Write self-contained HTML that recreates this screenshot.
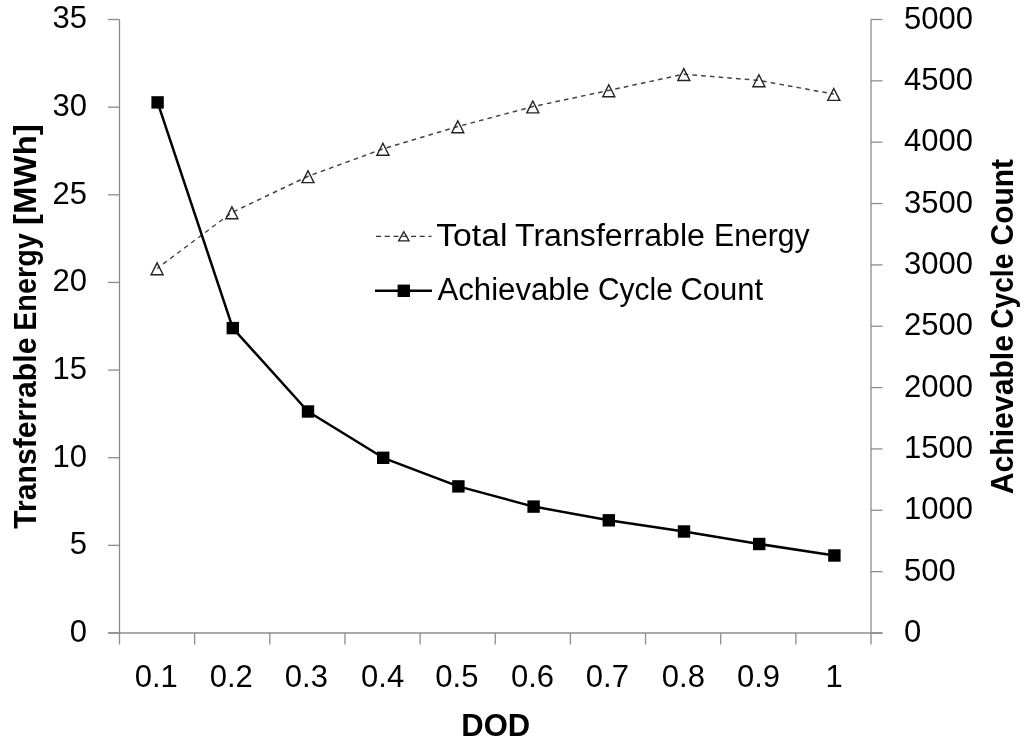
<!DOCTYPE html>
<html><head><meta charset="utf-8"><style>
html,body{margin:0;padding:0;background:#fff;width:1024px;height:745px;overflow:hidden}
svg{display:block;filter:blur(0.4px)}
.t{font-family:"Liberation Sans", sans-serif;font-size:31px;fill:#000}
.b{font-family:"Liberation Sans", sans-serif;font-size:31px;font-weight:bold;fill:#000}
</style></head><body>
<svg width="1024" height="745" viewBox="0 0 1024 745">
<line x1="119.5" y1="19.5" x2="119.5" y2="633.0" stroke="#8c8c8c" stroke-width="1.3"/>
<line x1="871.0" y1="19.5" x2="871.0" y2="633.0" stroke="#8c8c8c" stroke-width="1.3"/>
<line x1="108.0" y1="633.0" x2="882.5" y2="633.0" stroke="#8c8c8c" stroke-width="1.6"/>
<line x1="108.0" y1="633.00" x2="119.5" y2="633.00" stroke="#8c8c8c" stroke-width="1.3"/>
<text x="87" y="641.60" text-anchor="end" class="t">0</text>
<line x1="108.0" y1="545.36" x2="119.5" y2="545.36" stroke="#8c8c8c" stroke-width="1.3"/>
<text x="87" y="553.96" text-anchor="end" class="t">5</text>
<line x1="108.0" y1="457.71" x2="119.5" y2="457.71" stroke="#8c8c8c" stroke-width="1.3"/>
<text x="87" y="467.41" text-anchor="end" class="t">10</text>
<line x1="108.0" y1="370.07" x2="119.5" y2="370.07" stroke="#8c8c8c" stroke-width="1.3"/>
<text x="87" y="378.67" text-anchor="end" class="t">15</text>
<line x1="108.0" y1="282.43" x2="119.5" y2="282.43" stroke="#8c8c8c" stroke-width="1.3"/>
<text x="87" y="291.03" text-anchor="end" class="t">20</text>
<line x1="108.0" y1="194.79" x2="119.5" y2="194.79" stroke="#8c8c8c" stroke-width="1.3"/>
<text x="87" y="204.39" text-anchor="end" class="t">25</text>
<line x1="108.0" y1="107.14" x2="119.5" y2="107.14" stroke="#8c8c8c" stroke-width="1.3"/>
<text x="87" y="115.74" text-anchor="end" class="t">30</text>
<line x1="108.0" y1="19.50" x2="119.5" y2="19.50" stroke="#8c8c8c" stroke-width="1.3"/>
<text x="87" y="28.10" text-anchor="end" class="t">35</text>
<line x1="871.0" y1="633.00" x2="882.5" y2="633.00" stroke="#8c8c8c" stroke-width="1.3"/>
<text x="904" y="642.10" class="t">0</text>
<line x1="871.0" y1="571.65" x2="882.5" y2="571.65" stroke="#8c8c8c" stroke-width="1.3"/>
<text x="904" y="580.75" class="t">500</text>
<line x1="871.0" y1="510.30" x2="882.5" y2="510.30" stroke="#8c8c8c" stroke-width="1.3"/>
<text x="904" y="519.40" class="t">1000</text>
<line x1="871.0" y1="448.95" x2="882.5" y2="448.95" stroke="#8c8c8c" stroke-width="1.3"/>
<text x="904" y="458.05" class="t">1500</text>
<line x1="871.0" y1="387.60" x2="882.5" y2="387.60" stroke="#8c8c8c" stroke-width="1.3"/>
<text x="904" y="396.70" class="t">2000</text>
<line x1="871.0" y1="326.25" x2="882.5" y2="326.25" stroke="#8c8c8c" stroke-width="1.3"/>
<text x="904" y="335.35" class="t">2500</text>
<line x1="871.0" y1="264.90" x2="882.5" y2="264.90" stroke="#8c8c8c" stroke-width="1.3"/>
<text x="904" y="274.00" class="t">3000</text>
<line x1="871.0" y1="203.55" x2="882.5" y2="203.55" stroke="#8c8c8c" stroke-width="1.3"/>
<text x="904" y="212.65" class="t">3500</text>
<line x1="871.0" y1="142.20" x2="882.5" y2="142.20" stroke="#8c8c8c" stroke-width="1.3"/>
<text x="904" y="151.30" class="t">4000</text>
<line x1="871.0" y1="80.85" x2="882.5" y2="80.85" stroke="#8c8c8c" stroke-width="1.3"/>
<text x="904" y="89.95" class="t">4500</text>
<line x1="871.0" y1="19.50" x2="882.5" y2="19.50" stroke="#8c8c8c" stroke-width="1.3"/>
<text x="904" y="28.60" class="t">5000</text>
<line x1="119.50" y1="633.0" x2="119.50" y2="644.5" stroke="#8c8c8c" stroke-width="1.3"/>
<line x1="194.65" y1="633.0" x2="194.65" y2="644.5" stroke="#8c8c8c" stroke-width="1.3"/>
<line x1="269.80" y1="633.0" x2="269.80" y2="644.5" stroke="#8c8c8c" stroke-width="1.3"/>
<line x1="344.95" y1="633.0" x2="344.95" y2="644.5" stroke="#8c8c8c" stroke-width="1.3"/>
<line x1="420.10" y1="633.0" x2="420.10" y2="644.5" stroke="#8c8c8c" stroke-width="1.3"/>
<line x1="495.25" y1="633.0" x2="495.25" y2="644.5" stroke="#8c8c8c" stroke-width="1.3"/>
<line x1="570.40" y1="633.0" x2="570.40" y2="644.5" stroke="#8c8c8c" stroke-width="1.3"/>
<line x1="645.55" y1="633.0" x2="645.55" y2="644.5" stroke="#8c8c8c" stroke-width="1.3"/>
<line x1="720.70" y1="633.0" x2="720.70" y2="644.5" stroke="#8c8c8c" stroke-width="1.3"/>
<line x1="795.85" y1="633.0" x2="795.85" y2="644.5" stroke="#8c8c8c" stroke-width="1.3"/>
<line x1="871.00" y1="633.0" x2="871.00" y2="644.5" stroke="#8c8c8c" stroke-width="1.3"/>
<text x="156.30" y="687" text-anchor="middle" class="t">0.1</text>
<text x="231.30" y="687" text-anchor="middle" class="t">0.2</text>
<text x="306.40" y="687" text-anchor="middle" class="t">0.3</text>
<text x="382.60" y="687" text-anchor="middle" class="t">0.4</text>
<text x="456.90" y="687" text-anchor="middle" class="t">0.5</text>
<text x="532.55" y="687" text-anchor="middle" class="t">0.6</text>
<text x="607.40" y="687" text-anchor="middle" class="t">0.7</text>
<text x="683.35" y="687" text-anchor="middle" class="t">0.8</text>
<text x="758.45" y="687" text-anchor="middle" class="t">0.9</text>
<text x="834.10" y="687" text-anchor="middle" class="t">1</text>
<polyline points="157.10,268.50 231.90,212.50 308.00,176.30 382.90,148.90 457.80,126.50 532.80,106.60 608.80,90.40 683.80,74.20 758.90,80.40 833.80,94.10" fill="none" stroke="#444" stroke-width="1.5" stroke-dasharray="4.6 4.15" stroke-dashoffset="1.2"/>
<polyline points="157.60,102.40 232.80,328.10 308.00,411.50 383.20,457.80 458.40,486.40 533.60,506.60 608.80,520.30 684.00,531.50 759.20,544.00 834.40,555.50" fill="none" stroke="#000" stroke-width="2.5" stroke-linejoin="round"/>
<path d="M157.10,262.90 L163.10,274.80 L151.10,274.80 Z" fill="none" stroke="#222" stroke-width="1.4" stroke-linejoin="miter"/>
<path d="M231.90,206.90 L237.90,218.80 L225.90,218.80 Z" fill="none" stroke="#222" stroke-width="1.4" stroke-linejoin="miter"/>
<path d="M308.00,170.70 L314.00,182.60 L302.00,182.60 Z" fill="none" stroke="#222" stroke-width="1.4" stroke-linejoin="miter"/>
<path d="M382.90,143.30 L388.90,155.20 L376.90,155.20 Z" fill="none" stroke="#222" stroke-width="1.4" stroke-linejoin="miter"/>
<path d="M457.80,120.90 L463.80,132.80 L451.80,132.80 Z" fill="none" stroke="#222" stroke-width="1.4" stroke-linejoin="miter"/>
<path d="M532.80,101.00 L538.80,112.90 L526.80,112.90 Z" fill="none" stroke="#222" stroke-width="1.4" stroke-linejoin="miter"/>
<path d="M608.80,84.80 L614.80,96.70 L602.80,96.70 Z" fill="none" stroke="#222" stroke-width="1.4" stroke-linejoin="miter"/>
<path d="M683.80,68.60 L689.80,80.50 L677.80,80.50 Z" fill="none" stroke="#222" stroke-width="1.4" stroke-linejoin="miter"/>
<path d="M758.90,74.80 L764.90,86.70 L752.90,86.70 Z" fill="none" stroke="#222" stroke-width="1.4" stroke-linejoin="miter"/>
<path d="M833.80,88.50 L839.80,100.40 L827.80,100.40 Z" fill="none" stroke="#222" stroke-width="1.4" stroke-linejoin="miter"/>
<rect x="151.40" y="96.20" width="12.4" height="12.4" fill="#000"/>
<rect x="226.60" y="321.90" width="12.4" height="12.4" fill="#000"/>
<rect x="301.80" y="405.30" width="12.4" height="12.4" fill="#000"/>
<rect x="377.00" y="451.60" width="12.4" height="12.4" fill="#000"/>
<rect x="452.20" y="480.20" width="12.4" height="12.4" fill="#000"/>
<rect x="527.40" y="500.40" width="12.4" height="12.4" fill="#000"/>
<rect x="602.60" y="514.10" width="12.4" height="12.4" fill="#000"/>
<rect x="677.80" y="525.30" width="12.4" height="12.4" fill="#000"/>
<rect x="753.00" y="537.80" width="12.4" height="12.4" fill="#000"/>
<rect x="828.20" y="549.30" width="12.4" height="12.4" fill="#000"/>
<line x1="376" y1="236.4" x2="431.5" y2="236.4" stroke="#333" stroke-width="1.4" stroke-dasharray="5 3.75"/>
<path d="M403.85,231.70 L409.05,240.95 L398.65,240.95 Z" fill="none" stroke="#222" stroke-width="1.3" stroke-linejoin="miter"/>
<line x1="375" y1="290.8" x2="432" y2="290.8" stroke="#000" stroke-width="2.5"/>
<rect x="397.6" y="284.6" width="12.4" height="12.4" fill="#000"/>
<text x="495.7" y="735.7" text-anchor="middle" class="b">DOD</text>
<text x="436.21" y="245.5" class="t" textLength="71.31" lengthAdjust="spacingAndGlyphs">Total</text>
<text x="514.96" y="245.5" class="t" textLength="189.98" lengthAdjust="spacingAndGlyphs">Transferrable</text>
<text x="714.05" y="245.5" class="t" textLength="95.57" lengthAdjust="spacingAndGlyphs">Energy</text>
<text x="437.50" y="300.2" class="t" textLength="152.36" lengthAdjust="spacingAndGlyphs">Achievable</text>
<text x="597.97" y="300.2" class="t" textLength="74.90" lengthAdjust="spacingAndGlyphs">Cycle</text>
<text x="680.40" y="300.2" class="t" textLength="82.84" lengthAdjust="spacingAndGlyphs">Count</text>
<text transform="translate(36.2,0) rotate(-90)" x="-528.70" y="0" class="b" textLength="191.13" lengthAdjust="spacingAndGlyphs">Transferrable</text>
<text transform="translate(36.2,0) rotate(-90)" x="-330.86" y="0" class="b" textLength="97.76" lengthAdjust="spacingAndGlyphs">Energy</text>
<text transform="translate(36.2,0) rotate(-90)" x="-224.98" y="0" class="b" textLength="100.76" lengthAdjust="spacingAndGlyphs">[MWh]</text>
<text transform="translate(1012.7,0) rotate(-90)" x="-494.27" y="0" class="b" textLength="159.26" lengthAdjust="spacingAndGlyphs">Achievable</text>
<text transform="translate(1012.7,0) rotate(-90)" x="-328.86" y="0" class="b" textLength="75.23" lengthAdjust="spacingAndGlyphs">Cycle</text>
<text transform="translate(1012.7,0) rotate(-90)" x="-245.41" y="0" class="b" textLength="86.26" lengthAdjust="spacingAndGlyphs">Count</text>
</svg>
</body></html>
